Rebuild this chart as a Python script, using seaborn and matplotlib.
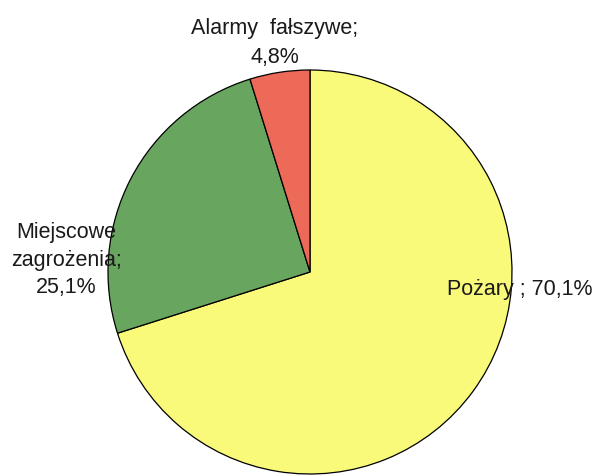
import matplotlib
matplotlib.use("Agg")
import matplotlib.pyplot as plt
import seaborn as sns

sns.set_theme(style="white")
plt.rcParams['font.family'] = ['Liberation Sans', 'DejaVu Sans']

# data: shares of interventions, %
categories = ['Pożary', 'Miejscowe zagrożenia', 'Alarmy fałszywe']
values = [70.1, 25.1, 4.8]
colors = ['#F9F97A', '#68A55E', '#EE6A58']

fig = plt.figure(figsize=(5.99, 4.77), dpi=100)
ax = fig.add_axes([0, 0, 1, 1])
# pie centre at (310, 273) px, radius 202 px
R = 202.0
ax.pie(values, colors=colors, startangle=90, counterclock=False, radius=1.0,
       wedgeprops=dict(edgecolor='black', linewidth=0.9))
ax.set_aspect('auto')
ax.set_xlim(-310 / R, (599 - 310) / R)
ax.set_ylim((273 - 477) / R, 273 / R)
ax.axis('off')

fs = 15.5
ax.text(-0.173, 1.139, 'Alarmy  fałszywe;\n4,8%', ha='center', va='center',
        fontsize=fs, color='#1a1a1a', linespacing=1.55)
ax.text(-1.205, 0.064, 'Miejscowe\nzagrożenia;\n25,1%', ha='center', va='center',
        fontsize=fs, color='#1a1a1a', linespacing=1.38)
ax.text(0.678, -0.084, 'Pożary ; 70,1%', ha='left', va='center',
        fontsize=fs, color='#1a1a1a')

plt.savefig('out.png', dpi=100, facecolor='white')
plt.close()
